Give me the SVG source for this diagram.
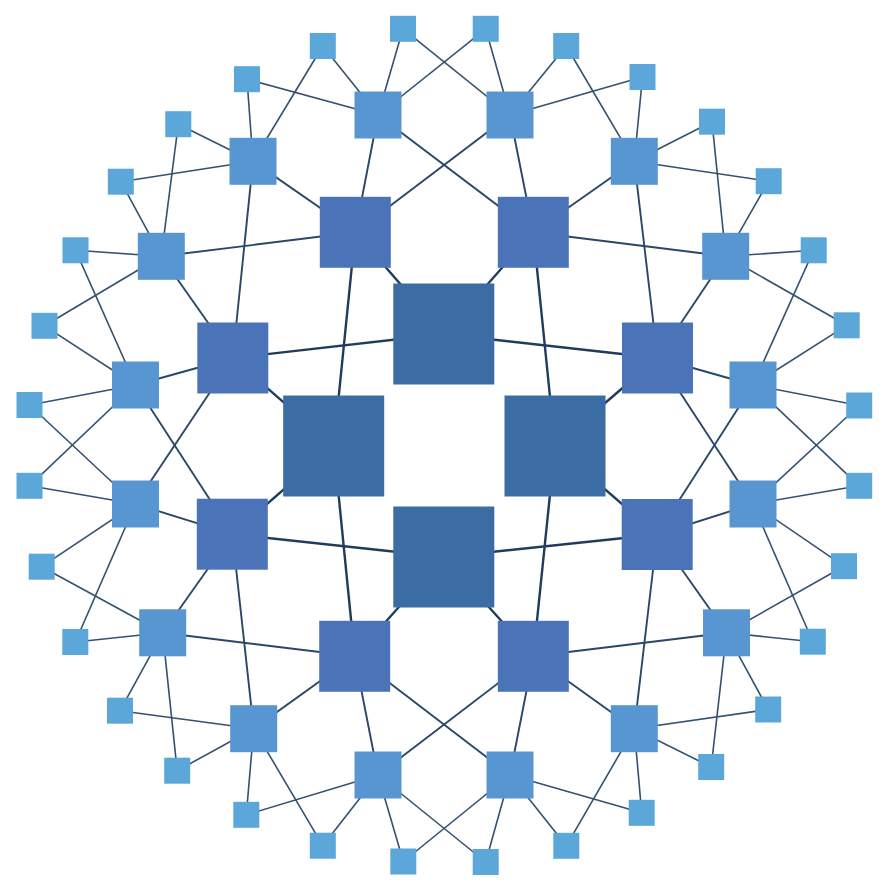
<svg xmlns="http://www.w3.org/2000/svg" width="887" height="887" viewBox="0 0 887 887">
<style>
.e1{stroke:#1f3c5c;stroke-width:2.4;fill:none}
.e2{stroke:#2a4768;stroke-width:1.9;fill:none}
.e3{stroke:#34516f;stroke-width:1.6;fill:none}
.n1{fill:#3b6ca4}
.n2{fill:#4b74b8}
.n3{fill:#5896d2}
.n4{fill:#5ca7d9}
</style>
<rect width="887" height="887" fill="#ffffff"/>
<g id="connectors">
<g class="e1">
<line x1="443.8" y1="334" x2="232.8" y2="358"/>
<line x1="443.8" y1="334" x2="355.3" y2="232.3"/>
<line x1="443.8" y1="334" x2="533.3" y2="232.3"/>
<line x1="443.8" y1="334" x2="657.5" y2="358"/>
<line x1="555" y1="446" x2="533.3" y2="232.3"/>
<line x1="555" y1="446" x2="657.5" y2="358"/>
<line x1="555" y1="446" x2="657.2" y2="534.5"/>
<line x1="555" y1="446" x2="533.3" y2="656.3"/>
<line x1="443.8" y1="557" x2="657.2" y2="534.5"/>
<line x1="443.8" y1="557" x2="533.3" y2="656.3"/>
<line x1="443.8" y1="557" x2="354.7" y2="656.3"/>
<line x1="443.8" y1="557" x2="232.3" y2="534.2"/>
<line x1="333.7" y1="446" x2="354.7" y2="656.3"/>
<line x1="333.7" y1="446" x2="232.3" y2="534.2"/>
<line x1="333.7" y1="446" x2="232.8" y2="358"/>
<line x1="333.7" y1="446" x2="355.3" y2="232.3"/>
</g>
<g class="e2">
<line x1="533.3" y1="232.3" x2="378" y2="115"/>
<line x1="533.3" y1="232.3" x2="510" y2="115"/>
<line x1="533.3" y1="232.3" x2="634.3" y2="161.3"/>
<line x1="533.3" y1="232.3" x2="725.7" y2="256.3"/>
<line x1="657.5" y1="358" x2="634.3" y2="161.3"/>
<line x1="657.5" y1="358" x2="725.7" y2="256.3"/>
<line x1="657.5" y1="358" x2="753" y2="385"/>
<line x1="657.5" y1="358" x2="753" y2="504"/>
<line x1="657.2" y1="534.5" x2="753" y2="385"/>
<line x1="657.2" y1="534.5" x2="753" y2="504"/>
<line x1="657.2" y1="534.5" x2="726.5" y2="632.8"/>
<line x1="657.2" y1="534.5" x2="634.3" y2="728.7"/>
<line x1="533.3" y1="656.3" x2="726.5" y2="632.8"/>
<line x1="533.3" y1="656.3" x2="634.3" y2="728.7"/>
<line x1="533.3" y1="656.3" x2="510" y2="775"/>
<line x1="533.3" y1="656.3" x2="378" y2="775"/>
<line x1="354.7" y1="656.3" x2="510" y2="775"/>
<line x1="354.7" y1="656.3" x2="378" y2="775"/>
<line x1="354.7" y1="656.3" x2="253.7" y2="728.7"/>
<line x1="354.7" y1="656.3" x2="162.7" y2="632.8"/>
<line x1="232.3" y1="534.2" x2="253.7" y2="728.7"/>
<line x1="232.3" y1="534.2" x2="162.7" y2="632.8"/>
<line x1="232.3" y1="534.2" x2="135.5" y2="504"/>
<line x1="232.3" y1="534.2" x2="135.5" y2="385"/>
<line x1="232.8" y1="358" x2="135.5" y2="504"/>
<line x1="232.8" y1="358" x2="135.5" y2="385"/>
<line x1="232.8" y1="358" x2="161.3" y2="256.3"/>
<line x1="232.8" y1="358" x2="253" y2="161.3"/>
<line x1="355.3" y1="232.3" x2="161.3" y2="256.3"/>
<line x1="355.3" y1="232.3" x2="253" y2="161.3"/>
<line x1="355.3" y1="232.3" x2="378" y2="115"/>
<line x1="355.3" y1="232.3" x2="510" y2="115"/>
</g>
<g class="e3">
<line x1="510" y1="115" x2="403" y2="28.8"/>
<line x1="510" y1="115" x2="485.7" y2="28.8"/>
<line x1="510" y1="115" x2="566.2" y2="46"/>
<line x1="510" y1="115" x2="642.5" y2="77"/>
<line x1="634.3" y1="161.3" x2="566.2" y2="46"/>
<line x1="634.3" y1="161.3" x2="642.5" y2="77"/>
<line x1="634.3" y1="161.3" x2="712" y2="121.7"/>
<line x1="634.3" y1="161.3" x2="768.7" y2="181.2"/>
<line x1="725.7" y1="256.3" x2="712" y2="121.7"/>
<line x1="725.7" y1="256.3" x2="768.7" y2="181.2"/>
<line x1="725.7" y1="256.3" x2="813.7" y2="250.3"/>
<line x1="725.7" y1="256.3" x2="846.7" y2="325.3"/>
<line x1="753" y1="385" x2="813.7" y2="250.3"/>
<line x1="753" y1="385" x2="846.7" y2="325.3"/>
<line x1="753" y1="385" x2="859.2" y2="405.5"/>
<line x1="753" y1="385" x2="859.2" y2="485.8"/>
<line x1="753" y1="504" x2="859.2" y2="405.5"/>
<line x1="753" y1="504" x2="859.2" y2="485.8"/>
<line x1="753" y1="504" x2="844" y2="566.2"/>
<line x1="753" y1="504" x2="812.8" y2="641.7"/>
<line x1="726.5" y1="632.8" x2="844" y2="566.2"/>
<line x1="726.5" y1="632.8" x2="812.8" y2="641.7"/>
<line x1="726.5" y1="632.8" x2="768.2" y2="709.5"/>
<line x1="726.5" y1="632.8" x2="711.2" y2="767"/>
<line x1="634.3" y1="728.7" x2="768.2" y2="709.5"/>
<line x1="634.3" y1="728.7" x2="711.2" y2="767"/>
<line x1="634.3" y1="728.7" x2="641.7" y2="812.8"/>
<line x1="634.3" y1="728.7" x2="566.3" y2="845.8"/>
<line x1="510" y1="775" x2="641.7" y2="812.8"/>
<line x1="510" y1="775" x2="566.3" y2="845.8"/>
<line x1="510" y1="775" x2="485.7" y2="862"/>
<line x1="510" y1="775" x2="403.3" y2="861.5"/>
<line x1="378" y1="775" x2="485.7" y2="862"/>
<line x1="378" y1="775" x2="403.3" y2="861.5"/>
<line x1="378" y1="775" x2="322.8" y2="845.7"/>
<line x1="378" y1="775" x2="246.3" y2="814.8"/>
<line x1="253.7" y1="728.7" x2="322.8" y2="845.7"/>
<line x1="253.7" y1="728.7" x2="246.3" y2="814.8"/>
<line x1="253.7" y1="728.7" x2="177.2" y2="770.7"/>
<line x1="253.7" y1="728.7" x2="120" y2="710.7"/>
<line x1="162.7" y1="632.8" x2="177.2" y2="770.7"/>
<line x1="162.7" y1="632.8" x2="120" y2="710.7"/>
<line x1="162.7" y1="632.8" x2="75.3" y2="642"/>
<line x1="162.7" y1="632.8" x2="41.7" y2="566.7"/>
<line x1="135.5" y1="504" x2="75.3" y2="642"/>
<line x1="135.5" y1="504" x2="41.7" y2="566.7"/>
<line x1="135.5" y1="504" x2="29.5" y2="485.8"/>
<line x1="135.5" y1="504" x2="29.5" y2="405"/>
<line x1="135.5" y1="385" x2="29.5" y2="485.8"/>
<line x1="135.5" y1="385" x2="29.5" y2="405"/>
<line x1="135.5" y1="385" x2="44.5" y2="325.8"/>
<line x1="135.5" y1="385" x2="75.5" y2="250.3"/>
<line x1="161.3" y1="256.3" x2="44.5" y2="325.8"/>
<line x1="161.3" y1="256.3" x2="75.5" y2="250.3"/>
<line x1="161.3" y1="256.3" x2="120.8" y2="181.7"/>
<line x1="161.3" y1="256.3" x2="178.3" y2="124.2"/>
<line x1="253" y1="161.3" x2="120.8" y2="181.7"/>
<line x1="253" y1="161.3" x2="178.3" y2="124.2"/>
<line x1="253" y1="161.3" x2="247" y2="79.2"/>
<line x1="253" y1="161.3" x2="322.8" y2="46"/>
<line x1="378" y1="115" x2="247" y2="79.2"/>
<line x1="378" y1="115" x2="322.8" y2="46"/>
<line x1="378" y1="115" x2="403" y2="28.8"/>
<line x1="378" y1="115" x2="485.7" y2="28.8"/>
</g>
</g>
<g id="core">
<rect id="c-top" class="n1" x="393.3" y="283.5" width="101" height="101"/>
<rect id="c-right" class="n1" x="504.5" y="395.5" width="101" height="101"/>
<rect id="c-bottom" class="n1" x="393.3" y="506.5" width="101" height="101"/>
<rect id="c-left" class="n1" x="283.2" y="395.5" width="101" height="101"/>
</g>
<g id="ring2">
<rect id="m0" class="n2" x="497.8" y="196.8" width="71" height="71"/>
<rect id="m1" class="n2" x="622" y="322.5" width="71" height="71"/>
<rect id="m2" class="n2" x="621.7" y="499" width="71" height="71"/>
<rect id="m3" class="n2" x="497.8" y="620.8" width="71" height="71"/>
<rect id="m4" class="n2" x="319.2" y="620.8" width="71" height="71"/>
<rect id="m5" class="n2" x="196.8" y="498.7" width="71" height="71"/>
<rect id="m6" class="n2" x="197.3" y="322.5" width="71" height="71"/>
<rect id="m7" class="n2" x="319.8" y="196.8" width="71" height="71"/>
</g>
<g id="ring3">
<rect id="r0" class="n3" x="486.5" y="91.5" width="47" height="47"/>
<rect id="r1" class="n3" x="610.8" y="137.8" width="47" height="47"/>
<rect id="r2" class="n3" x="702.2" y="232.8" width="47" height="47"/>
<rect id="r3" class="n3" x="729.5" y="361.5" width="47" height="47"/>
<rect id="r4" class="n3" x="729.5" y="480.5" width="47" height="47"/>
<rect id="r5" class="n3" x="703" y="609.3" width="47" height="47"/>
<rect id="r6" class="n3" x="610.8" y="705.2" width="47" height="47"/>
<rect id="r7" class="n3" x="486.5" y="751.5" width="47" height="47"/>
<rect id="r8" class="n3" x="354.5" y="751.5" width="47" height="47"/>
<rect id="r9" class="n3" x="230.2" y="705.2" width="47" height="47"/>
<rect id="r10" class="n3" x="139.2" y="609.3" width="47" height="47"/>
<rect id="r11" class="n3" x="112" y="480.5" width="47" height="47"/>
<rect id="r12" class="n3" x="112" y="361.5" width="47" height="47"/>
<rect id="r13" class="n3" x="137.8" y="232.8" width="47" height="47"/>
<rect id="r14" class="n3" x="229.5" y="137.8" width="47" height="47"/>
<rect id="r15" class="n3" x="354.5" y="91.5" width="47" height="47"/>
</g>
<g id="ring4">
<rect id="o0" class="n4" x="472.7" y="15.8" width="26" height="26"/>
<rect id="o1" class="n4" x="553.2" y="33" width="26" height="26"/>
<rect id="o2" class="n4" x="629.5" y="64" width="26" height="26"/>
<rect id="o3" class="n4" x="699" y="108.7" width="26" height="26"/>
<rect id="o4" class="n4" x="755.7" y="168.2" width="26" height="26"/>
<rect id="o5" class="n4" x="800.7" y="237.3" width="26" height="26"/>
<rect id="o6" class="n4" x="833.7" y="312.3" width="26" height="26"/>
<rect id="o7" class="n4" x="846.2" y="392.5" width="26" height="26"/>
<rect id="o8" class="n4" x="846.2" y="472.8" width="26" height="26"/>
<rect id="o9" class="n4" x="831" y="553.2" width="26" height="26"/>
<rect id="o10" class="n4" x="799.8" y="628.7" width="26" height="26"/>
<rect id="o11" class="n4" x="755.2" y="696.5" width="26" height="26"/>
<rect id="o12" class="n4" x="698.2" y="754" width="26" height="26"/>
<rect id="o13" class="n4" x="628.7" y="799.8" width="26" height="26"/>
<rect id="o14" class="n4" x="553.3" y="832.8" width="26" height="26"/>
<rect id="o15" class="n4" x="472.7" y="849" width="26" height="26"/>
<rect id="o16" class="n4" x="390.3" y="848.5" width="26" height="26"/>
<rect id="o17" class="n4" x="309.8" y="832.7" width="26" height="26"/>
<rect id="o18" class="n4" x="233.3" y="801.8" width="26" height="26"/>
<rect id="o19" class="n4" x="164.2" y="757.7" width="26" height="26"/>
<rect id="o20" class="n4" x="107" y="697.7" width="26" height="26"/>
<rect id="o21" class="n4" x="62.3" y="629" width="26" height="26"/>
<rect id="o22" class="n4" x="28.7" y="553.7" width="26" height="26"/>
<rect id="o23" class="n4" x="16.5" y="472.8" width="26" height="26"/>
<rect id="o24" class="n4" x="16.5" y="392" width="26" height="26"/>
<rect id="o25" class="n4" x="31.5" y="312.8" width="26" height="26"/>
<rect id="o26" class="n4" x="62.5" y="237.3" width="26" height="26"/>
<rect id="o27" class="n4" x="107.8" y="168.7" width="26" height="26"/>
<rect id="o28" class="n4" x="165.3" y="111.2" width="26" height="26"/>
<rect id="o29" class="n4" x="234" y="66.2" width="26" height="26"/>
<rect id="o30" class="n4" x="309.8" y="33" width="26" height="26"/>
<rect id="o31" class="n4" x="390" y="15.8" width="26" height="26"/>
</g>
</svg>
